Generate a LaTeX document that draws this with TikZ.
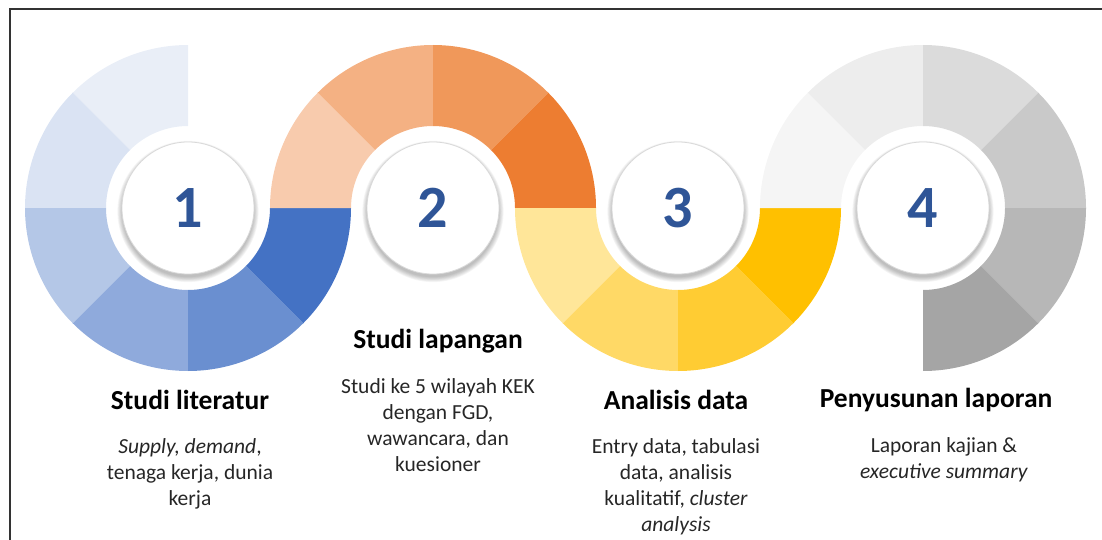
\documentclass[tikz,border=0pt]{standalone}
\usepackage{fontspec}
\setmainfont{Carlito}
\usepackage{tikz}
\usetikzlibrary{positioning}

\definecolor{blueA}{HTML}{E9EEF7}
\definecolor{blueB}{HTML}{DAE3F3}
\definecolor{blueC}{HTML}{B4C7E7}
\definecolor{blueD}{HTML}{8FAADC}
\definecolor{blueE}{HTML}{6A8FD0}
\definecolor{blueF}{HTML}{4472C4}
\definecolor{orangeA}{HTML}{F8CBAD}
\definecolor{orangeB}{HTML}{F4B183}
\definecolor{orangeC}{HTML}{F0985A}
\definecolor{orangeD}{HTML}{ED7D31}
\definecolor{yellowA}{HTML}{FFE699}
\definecolor{yellowB}{HTML}{FFD966}
\definecolor{yellowC}{HTML}{FFCC33}
\definecolor{yellowD}{HTML}{FFC000}
\definecolor{greyA}{HTML}{F5F5F5}
\definecolor{greyB}{HTML}{EDEDED}
\definecolor{greyC}{HTML}{DBDBDB}
\definecolor{greyD}{HTML}{C9C9C9}
\definecolor{greyE}{HTML}{B7B7B7}
\definecolor{greyF}{HTML}{A5A5A5}
\definecolor{numblue}{HTML}{2F5597}

\begin{document}
\begin{tikzpicture}[x=1pt, y=1pt,
		numcircle/.style={circle, fill=white, draw=gray!30, line width=0.8pt,
			minimum size=132pt, inner sep=0pt, text=numblue,
			font=\fontsize{60}{60}\selectfont\bfseries},
		steptitle/.style={inner sep=0pt, text=black,
			font=\fontsize{27.5}{32}\selectfont\bfseries},
		stepdesc/.style={inner sep=0pt, align=center, text=black!85,
			font=\fontsize{21.5}{26}\selectfont}]

		\useasboundingbox (0,0) rectangle (1102,539);

		% Frame
		\draw [line width=1.8pt, black!80] (10,-5) |- (1110,530);

		% Centres
		\foreach \i in {1,...,4}
			\coordinate (ring-\i) at ({188+245*(\i-1)},331);

		% Ring 1
		\foreach \a/\c in {90/blueA, 135/blueB, 180/blueC, 225/blueD, 270/blueE, 315/blueF}
			\fill [\c, shift={(ring-1)}] (\a:163) arc [start angle=\a, delta angle=45, radius=163]
				-- ({\a+45}:82) arc [start angle=\a+45, delta angle=-45, radius=82] -- cycle;

		% Ring 2
		\foreach \a/\c in {135/orangeA, 90/orangeB, 45/orangeC, 0/orangeD}
			\fill [\c, shift={(ring-2)}] (\a:163) arc [start angle=\a, delta angle=45, radius=163]
				-- ({\a+45}:82) arc [start angle=\a+45, delta angle=-45, radius=82] -- cycle;

		% Ring 3
		\foreach \a/\c in {180/yellowA, 225/yellowB, 270/yellowC, 315/yellowD}
			\fill [\c, shift={(ring-3)}] (\a:163) arc [start angle=\a, delta angle=45, radius=163]
				-- ({\a+45}:82) arc [start angle=\a+45, delta angle=-45, radius=82] -- cycle;

		% Ring 4
		\foreach \a/\c in {135/greyA, 90/greyB, 45/greyC, 0/greyD, -45/greyE, -90/greyF}
			\fill [\c, shift={(ring-4)}] (\a:163) arc [start angle=\a, delta angle=45, radius=163]
				-- ({\a+45}:82) arc [start angle=\a+45, delta angle=-45, radius=82] -- cycle;

		% Numbers
		\foreach \i in {1,...,4} {
			\foreach \k in {1,...,8}
				\fill [black, opacity=0.035] ([yshift=-3.5pt]ring-\i) circle [radius=65+0.7*\k];
			\node [numcircle] (num-\i) at (ring-\i) {\i};
		}

		% Titles
		\node [steptitle, anchor=base] (title-1) at (190,130) {Studi literatur};
		\node [steptitle, anchor=base] (title-2) at (438,191) {Studi lapangan};
		\node [steptitle, anchor=base] (title-3) at (676,130) {Analisis data};
		\node [steptitle, anchor=base] (title-4) at (936,132) {Penyusunan laporan};

		% Descriptions
		\node [stepdesc, anchor=base] (desc-1) at (190,34) {
			\textit{Supply, demand}, \\ tenaga kerja, dunia \\ kerja
		};
		\node [stepdesc, anchor=base] (desc-2) at (438,68) {
			Studi ke 5 wilayah KEK \\ dengan FGD, \\ wawancara, dan \\ kuesioner
		};
		\node [stepdesc, anchor=base] (desc-3) at (676,8) {
			Entry data, tabulasi \\ data, analisis \\ kualitatif, \textit{cluster} \\ \textit{analysis}
		};
		\node [stepdesc, anchor=base] (desc-4) at (944,61) {
			Laporan kajian \& \\ \textit{executive summary}
		};

	\end{tikzpicture}
\end{document}
